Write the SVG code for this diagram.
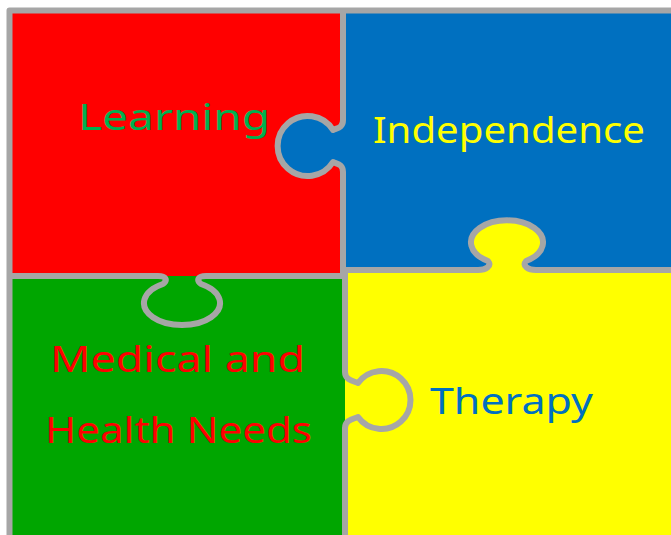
<svg xmlns="http://www.w3.org/2000/svg" width="671" height="535" viewBox="0 0 671 535">
<style>
.line{fill:none;stroke:#A6A6A6;stroke-width:6;stroke-linejoin:round}
.red{fill:#FF0000}.blue{fill:#0070C0}.green{fill:#00A600}.yellow{fill:#FFFF00}
.lbl{font-family:"Noto Sans","DejaVu Sans",sans-serif;font-size:36px}
</style>
<rect x="0" y="0" width="671" height="535" fill="#FFFFFF"/>
<g id="piece-learning">
<rect class="red" x="9.5" y="10.5" width="334" height="266"/>
<path class="red" d="M158,276 C166,276 168,280 163,284 A38,22 0 1 0 201,284 C196,280 198,276 206,276 Z"/>
<text class="lbl" x="78" y="130" font-size="38" fill="#00B050" textLength="192" lengthAdjust="spacingAndGlyphs">Learning</text>
</g>
<g id="piece-independence">
<rect class="blue" x="343" y="10.5" width="328" height="260"/>
<path class="blue" d="M343,120 C343,128 337,128 333,130 A30,30 0 1 0 333,162 C337,164 343,164 343,172 Z"/>
<text class="lbl" x="373" y="143" fill="#FFFF00" textLength="272" lengthAdjust="spacingAndGlyphs">Independence</text>
</g>
<g id="piece-medical">
<rect class="green" x="9.5" y="276" width="336" height="259"/>
<path class="green" d="M345,372 C345,380 353,381 358,383 A29,29 0 1 1 358,417 C353,419 345,420 345,428 Z"/>
<text class="lbl" x="50" y="372" fill="#FF0000" textLength="255" lengthAdjust="spacingAndGlyphs">Medical and</text>
<text class="lbl" x="45" y="443" fill="#FF0000" textLength="267" lengthAdjust="spacingAndGlyphs">Health Needs</text>
</g>
<g id="piece-therapy">
<rect class="yellow" x="345" y="270" width="326" height="265"/>
<path class="yellow" d="M478,270 C486,270 492,266 488,261 A36,22 0 1 1 526,261 C522,266 528,270 536,270 Z"/>
<text class="lbl" x="430" y="414" fill="#0070C0" textLength="163" lengthAdjust="spacingAndGlyphs">Therapy</text>
</g>
<g id="connectors">
<path class="line" d="M9.5,535 V10.5 H671" stroke-width="5"/>
<path class="line" d="M343,10 V120 C343,128 337,128 333,130 A30,30 0 1 0 333,162 C337,164 343,164 343,172 V273"/>
<path class="line" d="M9.5,276 H158 C166,276 168,280 163,284 A38,22 0 1 0 201,284 C196,280 198,276 206,276 H345"/>
<path class="line" d="M343,270 H478 C486,270 492,266 488,261 A36,22 0 1 1 526,261 C522,266 528,270 536,270 H671"/>
<path class="line" d="M345,271 V372 C345,380 353,381 358,383 A29,29 0 1 1 358,417 C353,419 345,420 345,428 V535"/>
</g>
</svg>
